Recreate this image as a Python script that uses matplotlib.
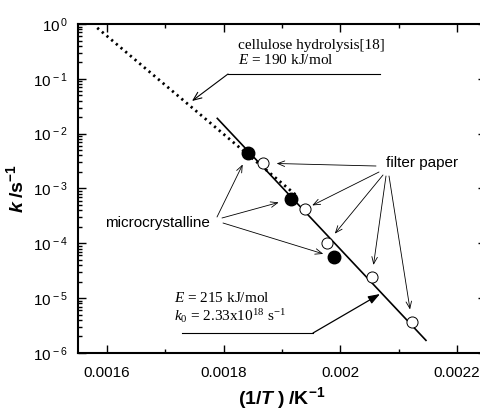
import numpy as np
import matplotlib
matplotlib.use('Agg')
import matplotlib.pyplot as plt
from matplotlib.ticker import FixedLocator, FuncFormatter, LogLocator, NullFormatter

plt.rcParams['font.family'] = ['Liberation Sans', 'DejaVu Sans']
plt.rcParams['mathtext.fontset'] = 'custom'
plt.rcParams['mathtext.rm'] = 'Liberation Serif'
plt.rcParams['mathtext.it'] = 'Liberation Serif:italic'
plt.rcParams['mathtext.sf'] = 'Liberation Sans'
plt.rcParams['mathtext.bf'] = 'Liberation Sans:bold'
plt.rcParams['mathtext.bfit'] = 'Liberation Sans:italic:bold'

# microcrystalline cellulose (filled circles)
micro_x = [0.001842, 0.001915, 0.001989]
micro_k = [4.4e-3, 6.4e-4, 5.6e-5]
# filter paper (open circles)
paper_x = [0.001867, 0.001939, 0.001977, 0.002054, 0.002123]
paper_k = [2.9e-3, 4.2e-4, 1.0e-4, 2.4e-5, 3.7e-6]
# Arrhenius fit, E = 215 kJ/mol
fit_x = [0.001789, 0.002147]
fit_k = [1.9e-2, 1.7e-6]
# cellulose hydrolysis [18], E = 190 kJ/mol
hyd_x = [0.001583, 0.001928]
hyd_k = [0.85, 7.0e-4]

x_major = [0.0016, 0.0018, 0.002, 0.0022]
x_minor = [0.0017, 0.0019, 0.0021]

fig = plt.figure(figsize=(4.81, 4.15), dpi=100)
# axes box in picture pixels (right spine falls just outside the picture)
L, R, T, B = 78, 486, 24, 353
ax = fig.add_axes([L / 481, (415 - B) / 415, (R - L) / 481, (B - T) / 415])


def px(x, y):
    # picture pixel -> axes fraction
    return ((x - L) / (R - L), (B - y) / (B - T))


ax.set_yscale('log')
ax.set_xlim(0.00155, 0.00225)
ax.set_ylim(1e-6, 1)

ax.plot(hyd_x, hyd_k, color='k', lw=2.0, ls=(0, (0.8, 1.4)), dash_capstyle='butt')
ax.plot(fit_x, fit_k, color='k', lw=1.2)
ax.plot(micro_x, micro_k, 'o', ms=9, color='k', zorder=3)
ax.plot(paper_x, paper_k, 'o', ms=8, mfc='white', mec='k', mew=0.7, zorder=3)

ax.xaxis.set_major_locator(FixedLocator(x_major))
ax.xaxis.set_minor_locator(FixedLocator(x_minor))
ax.xaxis.set_major_formatter(FuncFormatter(lambda v, p: '%g' % v))
ax.yaxis.set_major_locator(LogLocator(base=10, numticks=10))
ax.yaxis.set_minor_locator(LogLocator(base=10, subs=np.arange(2, 10), numticks=10))
ax.yaxis.set_minor_formatter(NullFormatter())
ax.yaxis.set_major_formatter(FuncFormatter(
    lambda v, p: r'$\mathsf{10^{\,%d}}$' % round(np.log10(v))))

ax.tick_params(which='both', direction='in', top=True, right=True, width=1.0)
ax.tick_params(which='major', length=6, labelsize=11)
ax.tick_params(axis='x', which='major', pad=9)
ax.tick_params(axis='y', which='major', pad=7)
ax.tick_params(which='minor', length=3)
for s in ax.spines.values():
    s.set_linewidth(1.5)

ax.set_xlabel(r'$\mathbf{(1/}\mathbfit{T}\mathbf{\ )\ /K^{-1}}$', fontsize=14, labelpad=4)
ax.set_ylabel(r'$\mathbfit{k}\mathbf{\ /s^{-1}}$', fontsize=14, labelpad=4)

serif = dict(family='Liberation Serif', fontsize=11, transform=ax.transAxes)
sans = dict(fontsize=11, transform=ax.transAxes)

# cellulose hydrolysis label
ax.text(*px(238, 49), 'cellulose hydrolysis[18]', **serif)
ax.text(*px(238, 64), r'$\mathit{E}$ = 190 kJ/mol', **serif)
ax.plot(*zip(px(228, 74), px(380, 74)), color='k', lw=0.8, transform=ax.transAxes)
ax.annotate('', xy=px(192, 101), xycoords='axes fraction',
            xytext=px(228, 74), textcoords='axes fraction',
            arrowprops=dict(arrowstyle='->,head_length=0.6,head_width=0.25',
                            lw=0.8, color='k', shrinkA=0, shrinkB=0))

# fit label
ax.text(*px(174, 302), r'$\mathit{E}$ = 215 kJ/mol', **serif)
ax.text(*px(174, 321), r'$\mathit{k}_0$ = 2.33x10$^{18}$ s$^{-1}$', **serif)
ax.plot(*zip(px(182, 333), px(313, 333)), color='k', lw=0.8, transform=ax.transAxes)
ax.annotate('', xy=px(380, 294), xycoords='axes fraction',
            xytext=px(313, 333), textcoords='axes fraction',
            arrowprops=dict(arrowstyle='-|>,head_length=0.7,head_width=0.25',
                            lw=0.9, color='k', shrinkA=0, shrinkB=0))

# filter paper arrows
ax.text(*px(386, 167), 'filter paper', **sans)
paper_from = [(376, 166), (379, 172), (383, 175), (386, 176), (389, 176)]
paper_gap = [10, 6, 9, 9, 9]
for (x0, y0), xi, ki, g in zip(paper_from, paper_x, paper_k, paper_gap):
    ax.annotate('', xy=(xi, ki), xycoords='data',
                xytext=px(x0, y0), textcoords='axes fraction',
                arrowprops=dict(arrowstyle='->,head_length=0.5,head_width=0.2',
                                lw=0.6, color='k', shrinkA=0, shrinkB=g))

# microcrystalline arrows
ax.text(*px(105, 227), 'microcrystalline', **sans)
micro_from = [(217, 217), (222, 218), (223, 223)]
micro_gap = [9, 9, 8]
for (x0, y0), xi, ki, g in zip(micro_from, micro_x, micro_k, micro_gap):
    ax.annotate('', xy=(xi, ki), xycoords='data',
                xytext=px(x0, y0), textcoords='axes fraction',
                arrowprops=dict(arrowstyle='->,head_length=0.5,head_width=0.2',
                                lw=0.6, color='k', shrinkA=0, shrinkB=g))

fig.savefig('out.png', dpi=100)
